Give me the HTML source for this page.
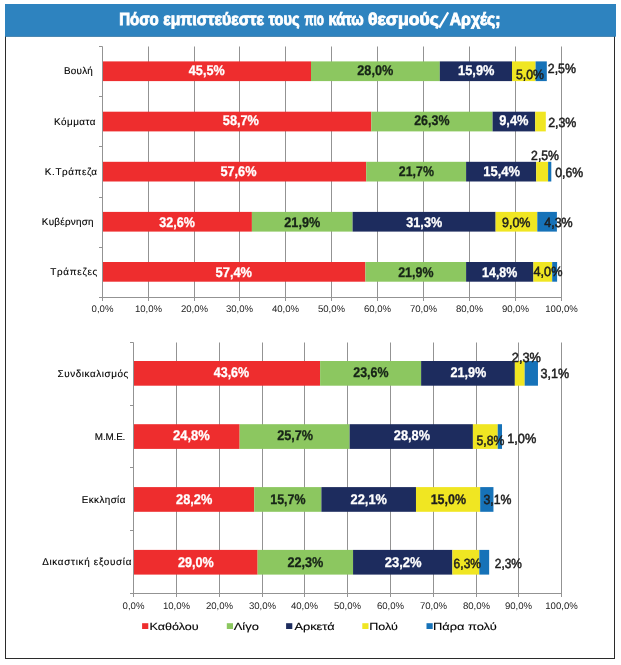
<!DOCTYPE html><html><head><meta charset="utf-8"><style>html,body{margin:0;padding:0;background:#fff;}svg{display:block;will-change:transform;}</style></head><body><svg width="621" height="665" viewBox="0 0 621 665" font-family='"Liberation Sans", sans-serif' text-rendering="geometricPrecision">
<rect width="621" height="665" fill="#ffffff"/>
<rect x="5.5" y="36" width="609" height="622.5" fill="none" stroke="#2b2b2b" stroke-width="1"/>
<rect x="5" y="4" width="611" height="32.7" fill="#2e83bf"/>
<line x1="148.5" y1="46.5" x2="148.5" y2="301.0" stroke="#939393" stroke-width="1"/>
<line x1="194.5" y1="46.5" x2="194.5" y2="301.0" stroke="#939393" stroke-width="1"/>
<line x1="239.5" y1="46.5" x2="239.5" y2="301.0" stroke="#939393" stroke-width="1"/>
<line x1="285.5" y1="46.5" x2="285.5" y2="301.0" stroke="#939393" stroke-width="1"/>
<line x1="331.5" y1="46.5" x2="331.5" y2="301.0" stroke="#939393" stroke-width="1"/>
<line x1="377.5" y1="46.5" x2="377.5" y2="301.0" stroke="#939393" stroke-width="1"/>
<line x1="423.5" y1="46.5" x2="423.5" y2="301.0" stroke="#939393" stroke-width="1"/>
<line x1="469.5" y1="46.5" x2="469.5" y2="301.0" stroke="#939393" stroke-width="1"/>
<line x1="515.5" y1="46.5" x2="515.5" y2="301.0" stroke="#939393" stroke-width="1"/>
<line x1="561.5" y1="46.5" x2="561.5" y2="301.0" stroke="#939393" stroke-width="1"/>
<rect x="102.50" y="61.40" width="208.50" height="19.7" fill="#ee2d2e"/>
<rect x="311.00" y="61.40" width="128.80" height="19.7" fill="#8cc760"/>
<rect x="439.80" y="61.40" width="72.20" height="19.7" fill="#1d2c5e"/>
<rect x="512.00" y="61.40" width="23.60" height="19.7" fill="#f0e622"/>
<rect x="535.60" y="61.40" width="11.20" height="19.7" fill="#1672b8"/>
<rect x="102.50" y="111.70" width="268.80" height="19.7" fill="#ee2d2e"/>
<rect x="371.30" y="111.70" width="121.30" height="19.7" fill="#8cc760"/>
<rect x="492.60" y="111.70" width="42.60" height="19.7" fill="#1d2c5e"/>
<rect x="535.20" y="111.70" width="10.60" height="19.7" fill="#f0e622"/>
<rect x="102.50" y="161.80" width="263.70" height="19.7" fill="#ee2d2e"/>
<rect x="366.20" y="161.80" width="99.90" height="19.7" fill="#8cc760"/>
<rect x="466.10" y="161.80" width="70.10" height="19.7" fill="#1d2c5e"/>
<rect x="536.20" y="161.80" width="11.90" height="19.7" fill="#f0e622"/>
<rect x="548.10" y="161.80" width="3.20" height="19.7" fill="#1672b8"/>
<rect x="102.50" y="211.90" width="149.40" height="19.7" fill="#ee2d2e"/>
<rect x="251.90" y="211.90" width="100.70" height="19.7" fill="#8cc760"/>
<rect x="352.60" y="211.90" width="143.00" height="19.7" fill="#1d2c5e"/>
<rect x="495.60" y="211.90" width="41.70" height="19.7" fill="#f0e622"/>
<rect x="537.30" y="211.90" width="19.60" height="19.7" fill="#1672b8"/>
<rect x="102.50" y="262.00" width="262.90" height="19.7" fill="#ee2d2e"/>
<rect x="365.40" y="262.00" width="100.70" height="19.7" fill="#8cc760"/>
<rect x="466.10" y="262.00" width="67.30" height="19.7" fill="#1d2c5e"/>
<rect x="533.40" y="262.00" width="18.80" height="19.7" fill="#f0e622"/>
<rect x="552.20" y="262.00" width="4.90" height="19.7" fill="#1672b8"/>
<line x1="102.5" y1="46.5" x2="102.5" y2="301.0" stroke="#939393" stroke-width="1"/>
<line x1="99.0" y1="297.5" x2="562" y2="297.5" stroke="#939393" stroke-width="1"/>
<line x1="99.0" y1="46.5" x2="102.5" y2="46.5" stroke="#939393" stroke-width="1"/>
<line x1="99.0" y1="96.5" x2="102.5" y2="96.5" stroke="#939393" stroke-width="1"/>
<line x1="99.0" y1="146.5" x2="102.5" y2="146.5" stroke="#939393" stroke-width="1"/>
<line x1="99.0" y1="197.5" x2="102.5" y2="197.5" stroke="#939393" stroke-width="1"/>
<line x1="99.0" y1="247.5" x2="102.5" y2="247.5" stroke="#939393" stroke-width="1"/>
<text x="102.5" y="311.7" font-size="9.6" fill="#1c1c1c" text-anchor="middle">0,0%</text>
<text x="148.5" y="311.7" font-size="9.6" fill="#1c1c1c" text-anchor="middle">10,0%</text>
<text x="194.5" y="311.7" font-size="9.6" fill="#1c1c1c" text-anchor="middle">20,0%</text>
<text x="239.5" y="311.7" font-size="9.6" fill="#1c1c1c" text-anchor="middle">30,0%</text>
<text x="285.5" y="311.7" font-size="9.6" fill="#1c1c1c" text-anchor="middle">40,0%</text>
<text x="331.5" y="311.7" font-size="9.6" fill="#1c1c1c" text-anchor="middle">50,0%</text>
<text x="377.5" y="311.7" font-size="9.6" fill="#1c1c1c" text-anchor="middle">60,0%</text>
<text x="423.5" y="311.7" font-size="9.6" fill="#1c1c1c" text-anchor="middle">70,0%</text>
<text x="469.5" y="311.7" font-size="9.6" fill="#1c1c1c" text-anchor="middle">80,0%</text>
<text x="515.5" y="311.7" font-size="9.6" fill="#1c1c1c" text-anchor="middle">90,0%</text>
<text x="561.5" y="311.7" font-size="9.6" fill="#1c1c1c" text-anchor="middle">100,0%</text>
<line x1="176.5" y1="342.5" x2="176.5" y2="597.0" stroke="#939393" stroke-width="1"/>
<line x1="219.5" y1="342.5" x2="219.5" y2="597.0" stroke="#939393" stroke-width="1"/>
<line x1="262.5" y1="342.5" x2="262.5" y2="597.0" stroke="#939393" stroke-width="1"/>
<line x1="304.5" y1="342.5" x2="304.5" y2="597.0" stroke="#939393" stroke-width="1"/>
<line x1="347.5" y1="342.5" x2="347.5" y2="597.0" stroke="#939393" stroke-width="1"/>
<line x1="390.5" y1="342.5" x2="390.5" y2="597.0" stroke="#939393" stroke-width="1"/>
<line x1="433.5" y1="342.5" x2="433.5" y2="597.0" stroke="#939393" stroke-width="1"/>
<line x1="476.5" y1="342.5" x2="476.5" y2="597.0" stroke="#939393" stroke-width="1"/>
<line x1="518.5" y1="342.5" x2="518.5" y2="597.0" stroke="#939393" stroke-width="1"/>
<line x1="561.5" y1="342.5" x2="561.5" y2="597.0" stroke="#939393" stroke-width="1"/>
<rect x="133.50" y="361.00" width="186.61" height="24.7" fill="#ee2d2e"/>
<rect x="320.11" y="361.00" width="101.01" height="24.7" fill="#8cc760"/>
<rect x="421.12" y="361.00" width="93.73" height="24.7" fill="#1d2c5e"/>
<rect x="514.85" y="361.00" width="9.84" height="24.7" fill="#f0e622"/>
<rect x="524.69" y="361.00" width="13.27" height="24.7" fill="#1672b8"/>
<rect x="133.50" y="424.20" width="106.14" height="24.7" fill="#ee2d2e"/>
<rect x="239.64" y="424.20" width="110.00" height="24.7" fill="#8cc760"/>
<rect x="349.64" y="424.20" width="123.26" height="24.7" fill="#1d2c5e"/>
<rect x="472.90" y="424.20" width="24.82" height="24.7" fill="#f0e622"/>
<rect x="497.73" y="424.20" width="4.28" height="24.7" fill="#1672b8"/>
<rect x="133.50" y="487.10" width="120.70" height="24.7" fill="#ee2d2e"/>
<rect x="254.20" y="487.10" width="67.20" height="24.7" fill="#8cc760"/>
<rect x="321.39" y="487.10" width="94.59" height="24.7" fill="#1d2c5e"/>
<rect x="415.98" y="487.10" width="64.20" height="24.7" fill="#f0e622"/>
<rect x="480.18" y="487.10" width="13.27" height="24.7" fill="#1672b8"/>
<rect x="133.50" y="549.90" width="124.12" height="24.7" fill="#ee2d2e"/>
<rect x="257.62" y="549.90" width="95.44" height="24.7" fill="#8cc760"/>
<rect x="353.06" y="549.90" width="99.30" height="24.7" fill="#1d2c5e"/>
<rect x="452.36" y="549.90" width="26.96" height="24.7" fill="#f0e622"/>
<rect x="479.32" y="549.90" width="9.84" height="24.7" fill="#1672b8"/>
<line x1="133.5" y1="342.5" x2="133.5" y2="597.0" stroke="#939393" stroke-width="1"/>
<line x1="130.0" y1="593.5" x2="562" y2="593.5" stroke="#939393" stroke-width="1"/>
<line x1="130.0" y1="342.5" x2="133.5" y2="342.5" stroke="#939393" stroke-width="1"/>
<line x1="130.0" y1="405.5" x2="133.5" y2="405.5" stroke="#939393" stroke-width="1"/>
<line x1="130.0" y1="467.5" x2="133.5" y2="467.5" stroke="#939393" stroke-width="1"/>
<line x1="130.0" y1="530.5" x2="133.5" y2="530.5" stroke="#939393" stroke-width="1"/>
<text x="133.5" y="608.6" font-size="9.6" fill="#1c1c1c" text-anchor="middle">0,0%</text>
<text x="176.5" y="608.6" font-size="9.6" fill="#1c1c1c" text-anchor="middle">10,0%</text>
<text x="219.5" y="608.6" font-size="9.6" fill="#1c1c1c" text-anchor="middle">20,0%</text>
<text x="262.5" y="608.6" font-size="9.6" fill="#1c1c1c" text-anchor="middle">30,0%</text>
<text x="304.5" y="608.6" font-size="9.6" fill="#1c1c1c" text-anchor="middle">40,0%</text>
<text x="347.5" y="608.6" font-size="9.6" fill="#1c1c1c" text-anchor="middle">50,0%</text>
<text x="390.5" y="608.6" font-size="9.6" fill="#1c1c1c" text-anchor="middle">60,0%</text>
<text x="433.5" y="608.6" font-size="9.6" fill="#1c1c1c" text-anchor="middle">70,0%</text>
<text x="476.5" y="608.6" font-size="9.6" fill="#1c1c1c" text-anchor="middle">80,0%</text>
<text x="518.5" y="608.6" font-size="9.6" fill="#1c1c1c" text-anchor="middle">90,0%</text>
<text x="561.5" y="608.6" font-size="9.6" fill="#1c1c1c" text-anchor="middle">100,0%</text>
<rect x="142.1" y="623.2" width="6.2" height="5.8" fill="#ee2d2e"/>
<rect x="226.8" y="623.2" width="6.2" height="5.8" fill="#8cc760"/>
<rect x="286.1" y="623.2" width="6.2" height="5.8" fill="#1d2c5e"/>
<rect x="362.3" y="623.2" width="6.2" height="5.8" fill="#f0e622"/>
<rect x="426.5" y="623.2" width="6.2" height="5.8" fill="#1672b8"/>
<line x1="439.2" y1="27.6" x2="448.2" y2="12.4" stroke="#ffffff" stroke-width="2.2"/>
<text x="119.154" y="25.400" font-size="17.400" font-weight="bold" fill="#ffffff" stroke="#ffffff" stroke-width="0.9" textLength="39.534" lengthAdjust="spacingAndGlyphs">Πόσο</text>
<text x="163.209" y="25.400" font-size="17.400" font-weight="bold" fill="#ffffff" stroke="#ffffff" stroke-width="0.9" textLength="100.754" lengthAdjust="spacingAndGlyphs">εμπιστεύεστε</text>
<text x="268.494" y="25.400" font-size="17.400" font-weight="bold" fill="#ffffff" stroke="#ffffff" stroke-width="0.9" textLength="31.029" lengthAdjust="spacingAndGlyphs">τους</text>
<text x="304.465" y="25.400" font-size="17.400" font-weight="bold" fill="#ffffff" stroke="#ffffff" stroke-width="0.9" textLength="19.362" lengthAdjust="spacingAndGlyphs">πιο</text>
<text x="328.426" y="25.400" font-size="17.400" font-weight="bold" fill="#ffffff" stroke="#ffffff" stroke-width="0.9" textLength="35.373" lengthAdjust="spacingAndGlyphs">κάτω</text>
<text x="367.967" y="25.400" font-size="17.400" font-weight="bold" fill="#ffffff" stroke="#ffffff" stroke-width="0.9" textLength="70.990" lengthAdjust="spacingAndGlyphs">θεσμούς</text>
<text x="449.706" y="25.400" font-size="17.400" font-weight="bold" fill="#ffffff" stroke="#ffffff" stroke-width="0.9" textLength="50.901" lengthAdjust="spacingAndGlyphs">Αρχές;</text>
<text x="63.926" y="74.400" font-size="9.900" font-weight="normal" fill="#000000" stroke="#000000" stroke-width="0.12" textLength="28.935" lengthAdjust="spacing">Βουλή</text>
<text x="54.015" y="124.600" font-size="9.900" font-weight="normal" fill="#000000" stroke="#000000" stroke-width="0.12" textLength="41.532" lengthAdjust="spacing">Κόμματα</text>
<text x="44.870" y="174.700" font-size="9.900" font-weight="normal" fill="#000000" stroke="#000000" stroke-width="0.12" textLength="52.189" lengthAdjust="spacing">Κ.Τράπεζα</text>
<text x="41.866" y="224.600" font-size="9.900" font-weight="normal" fill="#000000" stroke="#000000" stroke-width="0.12" textLength="51.686" lengthAdjust="spacing">Κυβέρνηση</text>
<text x="50.306" y="274.700" font-size="9.900" font-weight="normal" fill="#000000" stroke="#000000" stroke-width="0.12" textLength="47.045" lengthAdjust="spacing">Τράπεζες</text>
<text x="57.547" y="377.200" font-size="9.900" font-weight="normal" fill="#000000" stroke="#000000" stroke-width="0.12" textLength="70.804" lengthAdjust="spacing">Συνδικαλισμός</text>
<text x="94.853" y="439.500" font-size="9.900" font-weight="normal" fill="#000000" stroke="#000000" stroke-width="0.12" textLength="30.481" lengthAdjust="spacing">Μ.Μ.Ε.</text>
<text x="81.810" y="502.800" font-size="9.900" font-weight="normal" fill="#000000" stroke="#000000" stroke-width="0.12" textLength="43.613" lengthAdjust="spacing">Εκκλησία</text>
<text x="42.143" y="565.400" font-size="9.900" font-weight="normal" fill="#000000" stroke="#000000" stroke-width="0.12" textLength="89.271" lengthAdjust="spacing">Δικαστική εξουσία</text>
<text x="188.861" y="75.376" font-size="14.000" font-weight="bold" fill="#ffffff" stroke="#ffffff" stroke-width="0.3" textLength="35.753" lengthAdjust="spacingAndGlyphs">45,5%</text>
<text x="357.311" y="75.385" font-size="14.000" font-weight="bold" fill="#172417" stroke="#172417" stroke-width="0.3" textLength="36.019" lengthAdjust="spacingAndGlyphs">28,0%</text>
<text x="458.069" y="75.375" font-size="14.000" font-weight="bold" fill="#ffffff" stroke="#ffffff" stroke-width="0.3" textLength="36.379" lengthAdjust="spacingAndGlyphs">15,9%</text>
<text x="222.795" y="124.976" font-size="14.000" font-weight="bold" fill="#ffffff" stroke="#ffffff" stroke-width="0.3" textLength="36.171" lengthAdjust="spacingAndGlyphs">58,7%</text>
<text x="414.207" y="124.984" font-size="14.000" font-weight="bold" fill="#172417" stroke="#172417" stroke-width="0.3" textLength="35.227" lengthAdjust="spacingAndGlyphs">26,3%</text>
<text x="499.182" y="124.988" font-size="14.000" font-weight="bold" fill="#ffffff" stroke="#ffffff" stroke-width="0.3" textLength="29.364" lengthAdjust="spacingAndGlyphs">9,4%</text>
<text x="220.419" y="175.685" font-size="14.000" font-weight="bold" fill="#ffffff" stroke="#ffffff" stroke-width="0.3" textLength="36.099" lengthAdjust="spacingAndGlyphs">57,6%</text>
<text x="398.856" y="175.759" font-size="14.000" font-weight="bold" fill="#172417" stroke="#172417" stroke-width="0.3" textLength="35.120" lengthAdjust="spacingAndGlyphs">21,7%</text>
<text x="483.268" y="175.701" font-size="14.000" font-weight="bold" fill="#ffffff" stroke="#ffffff" stroke-width="0.3" textLength="36.793" lengthAdjust="spacingAndGlyphs">15,4%</text>
<text x="159.337" y="226.807" font-size="14.000" font-weight="bold" fill="#ffffff" stroke="#ffffff" stroke-width="0.3" textLength="35.551" lengthAdjust="spacingAndGlyphs">32,6%</text>
<text x="284.336" y="226.776" font-size="14.000" font-weight="bold" fill="#172417" stroke="#172417" stroke-width="0.3" textLength="35.921" lengthAdjust="spacingAndGlyphs">21,9%</text>
<text x="406.297" y="226.785" font-size="14.000" font-weight="bold" fill="#ffffff" stroke="#ffffff" stroke-width="0.3" textLength="35.864" lengthAdjust="spacingAndGlyphs">31,3%</text>
<text x="215.584" y="276.783" font-size="14.000" font-weight="bold" fill="#ffffff" stroke="#ffffff" stroke-width="0.3" textLength="36.467" lengthAdjust="spacingAndGlyphs">57,4%</text>
<text x="398.207" y="276.775" font-size="14.000" font-weight="bold" fill="#172417" stroke="#172417" stroke-width="0.3" textLength="35.227" lengthAdjust="spacingAndGlyphs">21,9%</text>
<text x="482.074" y="276.781" font-size="14.000" font-weight="bold" fill="#ffffff" stroke="#ffffff" stroke-width="0.3" textLength="35.269" lengthAdjust="spacingAndGlyphs">14,8%</text>
<text x="213.726" y="377.280" font-size="14.000" font-weight="bold" fill="#ffffff" stroke="#ffffff" stroke-width="0.3" textLength="35.490" lengthAdjust="spacingAndGlyphs">43,6%</text>
<text x="353.244" y="377.293" font-size="14.000" font-weight="bold" fill="#172417" stroke="#172417" stroke-width="0.3" textLength="35.228" lengthAdjust="spacingAndGlyphs">23,6%</text>
<text x="450.378" y="377.276" font-size="14.000" font-weight="bold" fill="#ffffff" stroke="#ffffff" stroke-width="0.3" textLength="36.023" lengthAdjust="spacingAndGlyphs">21,9%</text>
<text x="173.012" y="440.179" font-size="14.000" font-weight="bold" fill="#ffffff" stroke="#ffffff" stroke-width="0.3" textLength="36.700" lengthAdjust="spacingAndGlyphs">24,8%</text>
<text x="277.158" y="440.201" font-size="14.000" font-weight="bold" fill="#172417" stroke="#172417" stroke-width="0.3" textLength="35.934" lengthAdjust="spacingAndGlyphs">25,7%</text>
<text x="393.836" y="440.179" font-size="14.000" font-weight="bold" fill="#ffffff" stroke="#ffffff" stroke-width="0.3" textLength="36.186" lengthAdjust="spacingAndGlyphs">28,8%</text>
<text x="176.108" y="503.809" font-size="14.000" font-weight="bold" fill="#ffffff" stroke="#ffffff" stroke-width="0.3" textLength="36.161" lengthAdjust="spacingAndGlyphs">28,2%</text>
<text x="270.278" y="503.801" font-size="14.000" font-weight="bold" fill="#172417" stroke="#172417" stroke-width="0.3" textLength="35.309" lengthAdjust="spacingAndGlyphs">15,7%</text>
<text x="350.576" y="503.862" font-size="14.000" font-weight="bold" fill="#ffffff" stroke="#ffffff" stroke-width="0.3" textLength="36.409" lengthAdjust="spacingAndGlyphs">22,1%</text>
<text x="178.058" y="566.775" font-size="14.000" font-weight="bold" fill="#ffffff" stroke="#ffffff" stroke-width="0.3" textLength="35.757" lengthAdjust="spacingAndGlyphs">29,0%</text>
<text x="287.401" y="566.802" font-size="14.000" font-weight="bold" fill="#172417" stroke="#172417" stroke-width="0.3" textLength="35.997" lengthAdjust="spacingAndGlyphs">22,3%</text>
<text x="384.823" y="566.776" font-size="14.000" font-weight="bold" fill="#ffffff" stroke="#ffffff" stroke-width="0.3" textLength="36.820" lengthAdjust="spacingAndGlyphs">23,2%</text>
<text x="430.641" y="503.783" font-size="14.000" font-weight="bold" fill="#1e1e1e" stroke="#1e1e1e" stroke-width="0.3" textLength="35.385" lengthAdjust="spacingAndGlyphs">15,0%</text>
<text x="515.961" y="78.687" font-size="13.300" font-weight="normal" fill="#1e1e1e" stroke="#1e1e1e" stroke-width="0.5" textLength="28.030" lengthAdjust="spacingAndGlyphs">5,0%</text>
<text x="547.777" y="73.403" font-size="13.300" font-weight="normal" fill="#1e1e1e" stroke="#1e1e1e" stroke-width="0.5" textLength="28.188" lengthAdjust="spacingAndGlyphs">2,5%</text>
<text x="548.142" y="127.394" font-size="13.300" font-weight="normal" fill="#1e1e1e" stroke="#1e1e1e" stroke-width="0.5" textLength="28.226" lengthAdjust="spacingAndGlyphs">2,3%</text>
<text x="531.090" y="159.738" font-size="13.300" font-weight="normal" fill="#1e1e1e" stroke="#1e1e1e" stroke-width="0.5" textLength="27.897" lengthAdjust="spacingAndGlyphs">2,5%</text>
<text x="555.300" y="176.564" font-size="13.300" font-weight="normal" fill="#1e1e1e" stroke="#1e1e1e" stroke-width="0.5" textLength="27.895" lengthAdjust="spacingAndGlyphs">0,6%</text>
<text x="501.981" y="227.102" font-size="13.300" font-weight="normal" fill="#1e1e1e" stroke="#1e1e1e" stroke-width="0.5" textLength="28.501" lengthAdjust="spacingAndGlyphs">9,0%</text>
<text x="544.272" y="227.076" font-size="13.300" font-weight="normal" fill="#1e1e1e" stroke="#1e1e1e" stroke-width="0.5" textLength="28.466" lengthAdjust="spacingAndGlyphs">4,3%</text>
<text x="533.530" y="275.656" font-size="13.300" font-weight="normal" fill="#1e1e1e" stroke="#1e1e1e" stroke-width="0.5" textLength="28.912" lengthAdjust="spacingAndGlyphs">4,0%</text>
<text x="511.827" y="361.661" font-size="13.300" font-weight="normal" fill="#1e1e1e" stroke="#1e1e1e" stroke-width="0.5" textLength="29.132" lengthAdjust="spacingAndGlyphs">2,3%</text>
<text x="540.514" y="377.944" font-size="13.300" font-weight="normal" fill="#1e1e1e" stroke="#1e1e1e" stroke-width="0.5" textLength="28.604" lengthAdjust="spacingAndGlyphs">3,1%</text>
<text x="476.451" y="445.289" font-size="13.300" font-weight="normal" fill="#1e1e1e" stroke="#1e1e1e" stroke-width="0.5" textLength="27.849" lengthAdjust="spacingAndGlyphs">5,8%</text>
<text x="507.216" y="442.756" font-size="13.300" font-weight="normal" fill="#1e1e1e" stroke="#1e1e1e" stroke-width="0.5" textLength="29.074" lengthAdjust="spacingAndGlyphs">1,0%</text>
<text x="483.409" y="503.588" font-size="13.300" font-weight="normal" fill="#1e1e1e" stroke="#1e1e1e" stroke-width="0.5" textLength="27.992" lengthAdjust="spacingAndGlyphs">3,1%</text>
<text x="453.611" y="567.675" font-size="13.300" font-weight="normal" fill="#1e1e1e" stroke="#1e1e1e" stroke-width="0.5" textLength="27.405" lengthAdjust="spacingAndGlyphs">6,3%</text>
<text x="494.791" y="567.711" font-size="13.300" font-weight="normal" fill="#1e1e1e" stroke="#1e1e1e" stroke-width="0.5" textLength="27.076" lengthAdjust="spacingAndGlyphs">2,3%</text>
<text x="149.518" y="629.500" font-size="10.300" font-weight="normal" fill="#000000" stroke="#000000" stroke-width="0.12" textLength="49.180" lengthAdjust="spacingAndGlyphs">Καθόλου</text>
<text x="233.650" y="629.500" font-size="10.300" font-weight="normal" fill="#000000" stroke="#000000" stroke-width="0.12" textLength="25.240" lengthAdjust="spacingAndGlyphs">Λίγο</text>
<text x="294.398" y="629.500" font-size="10.300" font-weight="normal" fill="#000000" stroke="#000000" stroke-width="0.12" textLength="40.147" lengthAdjust="spacingAndGlyphs">Αρκετά</text>
<text x="369.229" y="629.500" font-size="10.300" font-weight="normal" fill="#000000" stroke="#000000" stroke-width="0.12" textLength="28.573" lengthAdjust="spacingAndGlyphs">Πολύ</text>
<text x="432.961" y="629.500" font-size="10.300" font-weight="normal" fill="#000000" stroke="#000000" stroke-width="0.12" textLength="63.835" lengthAdjust="spacingAndGlyphs">Πάρα πολύ</text>
</svg></body></html>
